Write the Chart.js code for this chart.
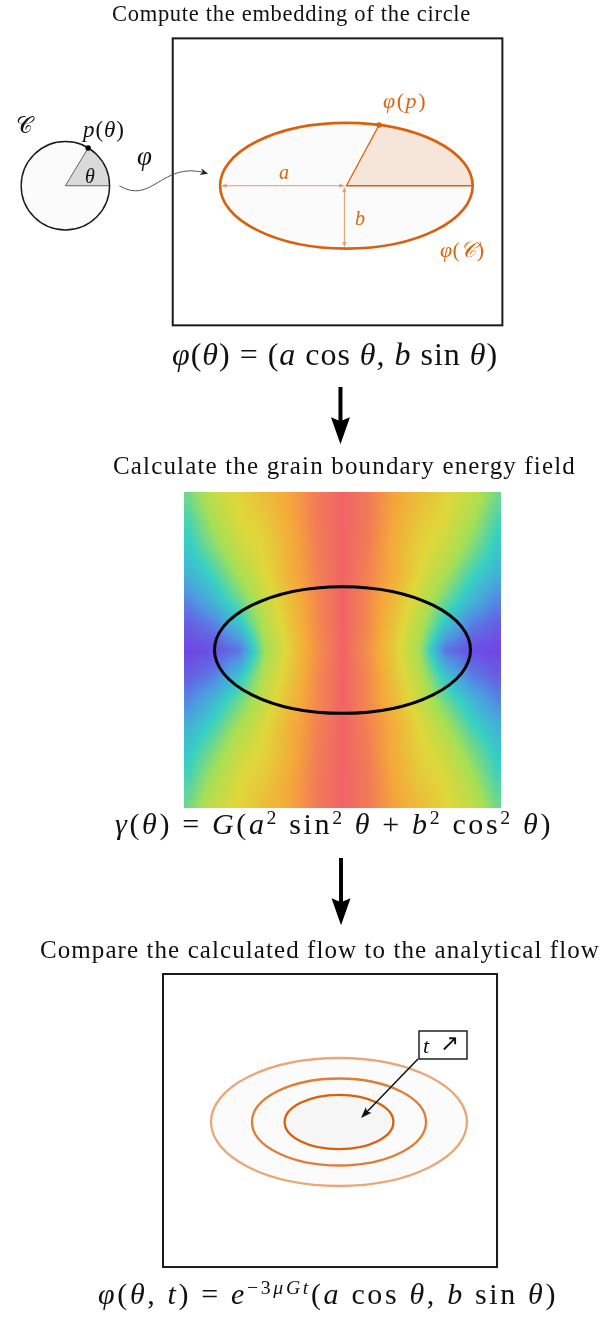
<!DOCTYPE html>
<html>
<head>
<meta charset="utf-8">
<script src="https://cdn.jsdelivr.net/npm/chart.js@4.4.1/dist/chart.umd.min.js"></script>
<style>
  body { margin: 0; background: #fff; }
  #page { position: relative; width: 603px; height: 1323px; overflow: hidden;
          font-family: "Liberation Serif", "DejaVu Serif", serif; color: #111; }
  canvas { position: absolute; left: 0; }
  .t { position: absolute; white-space: nowrap; line-height: 1; z-index: 2; }
  .or { color: #d9650f; }
  .sup { font-size: 0.66em; position: relative; top: -0.52em; }
</style>
</head>
<body>
<div id="page">
  <canvas id="embed" width="603" height="455" style="top:0"></canvas>
  <canvas id="field" width="603" height="480" style="top:455px"></canvas>
  <canvas id="flow" width="603" height="388" style="top:935px"></canvas>

  <div class="t fit" data-x="112" data-w="359" data-b="22" style="font-size:22.5px">Compute the embedding of the circle</div>
  <div class="t fit" data-x="172" data-w="326" data-b="365" style="font-size:32px"><i>φ</i>(<i>θ</i>) = (<i>a</i> cos <i>θ</i>, <i>b</i> sin <i>θ</i>)</div>
  <div class="t fit" data-x="113" data-w="463" data-b="474" style="font-size:25px">Calculate the grain boundary energy field</div>
  <div class="t fit" data-x="115" data-w="438" data-b="834" style="font-size:30px"><i>γ</i>(<i>θ</i>) = <i>G</i>(<i>a</i><span class="sup">2</span> sin<span class="sup">2</span> <i>θ</i> + <i>b</i><span class="sup">2</span> cos<span class="sup">2</span> <i>θ</i>)</div>
  <div class="t fit" data-x="40" data-w="560" data-b="958" style="font-size:25px">Compare the calculated flow to the analytical flow</div>
  <div class="t fit" data-x="98" data-w="460" data-b="1304" style="font-size:30px"><i>φ</i>(<i>θ</i>, <i>t</i>) = <i>e</i><span class="sup">−3<i>μGt</i></span>(<i>a</i> cos <i>θ</i>, <i>b</i> sin <i>θ</i>)</div>

  <div class="t" style="left:16px;top:114px;font-size:23px;font-family:'DejaVu Serif',serif">𝒞</div>
  <div class="t fit" data-x="83" data-w="42" data-b="137" style="font-size:23px"><i>p</i>(<i>θ</i>)</div>
  <div class="t" style="left:85px;top:166px;font-size:20px"><i>θ</i></div>
  <div class="t" style="left:137px;top:143px;font-size:27px"><i>φ</i></div>
  <div class="t or fit" data-x="383" data-w="44" data-b="108" style="font-size:22px"><i>φ</i>(<i>p</i>)</div>
  <div class="t or" style="left:279px;top:162px;font-size:20px"><i>a</i></div>
  <div class="t or" style="left:355px;top:208px;font-size:20px"><i>b</i></div>
  <div class="t or fit" data-x="440" data-w="45" data-b="257" style="font-size:22px"><i>φ</i>(<i>𝒞</i>)</div>
  <div class="t" style="left:423px;top:1035px;font-size:22px"><i>t</i></div>
  <div class="t" style="left:440px;top:1032px;font-size:23px;font-family:'DejaVu Sans',sans-serif">↗</div>
</div>

<script>
// values (in ellipse units: b = 1)
const embedAxes = [2.0, 1.0];            // a, b of φ(C)
const circleRadius = 0.70;               // radius of C
const thetaDeg = [59, 75];               // angle of p(θ) on C, of φ(p) on φ(C)
const fieldAxes = [2.0, 0.99];           // black ellipse over the energy field
const flowAxes = [2.0, 1.0];             // largest ellipse of the flow
const flowScale = [1.0, 0.68, 0.425];    // e^{-3μGt} for the three drawn times

// normalised grain boundary energy (0 = purple, 1 = red), read on a 13 x 13 grid
const fieldCols = [-2.4, -2.0, -1.6, -1.2, -0.8, -0.4, 0, 0.4, 0.8, 1.2, 1.6, 2.0, 2.4];
const fieldRows = [2.4, 2.0, 1.6, 1.2, 0.8, 0.4, 0, -0.4, -0.8, -1.2, -1.6, -2.0, -2.4];
const fieldGrid = [
  [0.42, 0.58, 0.67, 0.75, 0.83, 0.94, 1.0, 0.94, 0.83, 0.75, 0.67, 0.58, 0.42],
  [0.36, 0.52, 0.65, 0.71, 0.82, 0.94, 1.0, 0.94, 0.82, 0.71, 0.65, 0.52, 0.36],
  [0.31, 0.45, 0.60, 0.68, 0.80, 0.93, 1.0, 0.93, 0.80, 0.68, 0.60, 0.45, 0.31],
  [0.25, 0.36, 0.52, 0.66, 0.80, 0.92, 1.0, 0.92, 0.80, 0.66, 0.52, 0.36, 0.25],
  [0.14, 0.27, 0.42, 0.60, 0.76, 0.90, 1.0, 0.90, 0.76, 0.60, 0.42, 0.27, 0.14],
  [0.05, 0.12, 0.30, 0.55, 0.73, 0.90, 1.0, 0.90, 0.73, 0.55, 0.30, 0.12, 0.05],
  [0.00, 0.02, 0.10, 0.50, 0.70, 0.88, 1.0, 0.88, 0.70, 0.50, 0.10, 0.02, 0.00],
  [0.05, 0.12, 0.30, 0.55, 0.73, 0.90, 1.0, 0.90, 0.73, 0.55, 0.30, 0.12, 0.05],
  [0.14, 0.27, 0.42, 0.60, 0.76, 0.90, 1.0, 0.90, 0.76, 0.60, 0.42, 0.27, 0.14],
  [0.25, 0.36, 0.52, 0.66, 0.80, 0.92, 1.0, 0.92, 0.80, 0.66, 0.52, 0.36, 0.25],
  [0.31, 0.45, 0.60, 0.68, 0.80, 0.93, 1.0, 0.93, 0.80, 0.68, 0.60, 0.45, 0.31],
  [0.36, 0.52, 0.65, 0.71, 0.82, 0.94, 1.0, 0.94, 0.82, 0.71, 0.65, 0.52, 0.36],
  [0.42, 0.58, 0.67, 0.75, 0.83, 0.94, 1.0, 0.94, 0.83, 0.75, 0.67, 0.58, 0.42]
];

const ORANGE = '#d9600c';
const ORANGE_LIGHT = '#e79a66';
const U = 64; // px per unit

const cmapStops = [
  [0.00, [112, 70, 228]],
  [0.17, [78, 152, 226]],
  [0.33, [55, 208, 196]],
  [0.50, [165, 224, 86]],
  [0.66, [224, 215, 58]],
  [0.82, [245, 168, 58]],
  [1.00, [240, 100, 102]]
];

function cmap(v) {
  for (let i = 1; i < cmapStops.length; i++) {
    if (v <= cmapStops[i][0]) {
      const [v0, c0] = cmapStops[i - 1], [v1, c1] = cmapStops[i];
      const f = (v - v0) / (v1 - v0);
      return c0.map((c, k) => Math.round(c + (c1[k] - c) * f));
    }
  }
  return cmapStops[cmapStops.length - 1][1];
}

// stretch titles and formulas to the width they have in the figure
document.querySelectorAll('.fit').forEach(el => {
  const size = parseFloat(el.style.fontSize);
  el.style.letterSpacing = '0px';
  const w = el.getBoundingClientRect().width;
  const n = el.textContent.length;
  el.style.letterSpacing = ((+el.dataset.w - w) / n) + 'px';
  el.style.left = el.dataset.x + 'px';
  el.style.top = (+el.dataset.b - 0.84 * size) + 'px';
});

function ranges(w, h, ox, oy) {
  return { x: [-ox / U, (w - ox) / U], y: [-(h - oy) / U, oy / U] };
}

function tools(chart) {
  const X = v => chart.scales.x.getPixelForValue(v);
  const Y = v => chart.scales.y.getPixelForValue(v);
  return { ctx: chart.ctx, X, Y, ux: X(1) - X(0), uy: Y(0) - Y(1) };
}

function head(ctx, x0, y0, x1, y1, len, wid, color, notch) {
  const ang = Math.atan2(y1 - y0, x1 - x0);
  ctx.save();
  ctx.translate(x1, y1);
  ctx.rotate(ang);
  ctx.fillStyle = color;
  ctx.beginPath();
  ctx.moveTo(0, 0);
  ctx.lineTo(-len, -wid / 2);
  ctx.lineTo(-len * (1 - (notch || 0)), 0);
  ctx.lineTo(-len, wid / 2);
  ctx.closePath();
  ctx.fill();
  ctx.restore();
}

function bigArrow(t, x, yTop, yTip) {
  const { ctx, X, Y } = t;
  ctx.save();
  ctx.strokeStyle = '#000';
  ctx.lineWidth = 4;
  ctx.beginPath();
  ctx.moveTo(X(x), Y(yTop));
  ctx.lineTo(X(x), Y(yTip) - 20);
  ctx.stroke();
  head(ctx, X(x), Y(yTop), X(x), Y(yTip), 27, 19, '#000', 0.15);
  ctx.restore();
}

function baseOptions(r) {
  return {
    responsive: false, animation: false, events: [],
    layout: { padding: 0 },
    plugins: { legend: { display: false }, tooltip: { enabled: false } },
    scales: {
      x: { type: 'linear', display: false, min: r.x[0], max: r.x[1] },
      y: { type: 'linear', display: false, min: r.y[0], max: r.y[1] }
    }
  };
}

// ---------- panel 1: embedding ----------
const th = thetaDeg.map(d => d * Math.PI / 180);
const circleX = -4.45;
const pOnC = { x: circleX + circleRadius * Math.cos(th[0]), y: circleRadius * Math.sin(th[0]) };
const phiP = { x: embedAxes[0] * Math.cos(th[1]), y: embedAxes[1] * Math.sin(th[1]) };

new Chart(document.getElementById('embed'), {
  type: 'scatter',
  data: {
    datasets: [
      { type: 'line', data: [phiP, { x: 0, y: 0 }, { x: embedAxes[0], y: 0 }],
        borderColor: ORANGE, borderWidth: 1.3, pointRadius: 0, fill: false },
      { data: [phiP], pointRadius: 2.7, backgroundColor: ORANGE, borderWidth: 0 },
      { data: [pOnC], pointRadius: 2.7, backgroundColor: '#000', borderWidth: 0 }
    ]
  },
  options: baseOptions(ranges(603, 455, 347, 185)),
  plugins: [{
    id: 'embedDraw',
    beforeDatasetsDraw(chart) {
      const t = tools(chart), { ctx, X, Y, ux, uy } = t;
      const [a, b] = embedAxes;
      ctx.save();
      // frame
      ctx.strokeStyle = '#1a1a1a';
      ctx.lineWidth = 2;
      ctx.strokeRect(X(-2.75), Y(2.344), X(2.47) - X(-2.75), Y(-2.22) - Y(2.344));

      // circle C with the wedge up to p(θ)
      const cx = X(circleX), cy = Y(0), r = circleRadius * ux;
      ctx.fillStyle = '#fbfbfb';
      ctx.beginPath(); ctx.arc(cx, cy, r, 0, 2 * Math.PI); ctx.fill();
      ctx.fillStyle = '#dadada';
      ctx.beginPath(); ctx.moveTo(cx, cy); ctx.arc(cx, cy, r, -th[0], 0); ctx.closePath(); ctx.fill();
      ctx.strokeStyle = '#444'; ctx.lineWidth = 0.8;
      ctx.beginPath(); ctx.moveTo(X(pOnC.x), Y(pOnC.y)); ctx.lineTo(cx, cy); ctx.lineTo(cx + r, cy); ctx.stroke();
      ctx.strokeStyle = '#1a1a1a'; ctx.lineWidth = 1.4;
      ctx.beginPath(); ctx.arc(cx, cy, r, 0, 2 * Math.PI); ctx.stroke();

      // ellipse φ(C) with sector up to φ(p)
      const ex = X(0), ey = Y(0);
      ctx.fillStyle = '#fbfbfb';
      ctx.beginPath(); ctx.ellipse(ex, ey, a * ux, b * uy, 0, 0, 2 * Math.PI); ctx.fill();
      ctx.fillStyle = '#f6e6d9';
      ctx.beginPath(); ctx.moveTo(ex, ey); ctx.lineTo(X(phiP.x), Y(phiP.y));
      ctx.ellipse(ex, ey, a * ux, b * uy, 0, -th[1], 0); ctx.closePath(); ctx.fill();
      ctx.strokeStyle = ORANGE; ctx.lineWidth = 2.6;
      ctx.beginPath(); ctx.ellipse(ex, ey, a * ux, b * uy, 0, 0, 2 * Math.PI); ctx.stroke();

      // a and b dimension arrows
      ctx.strokeStyle = ORANGE_LIGHT; ctx.lineWidth = 1;
      ctx.beginPath();
      ctx.moveTo(X(-a) + 2, ey); ctx.lineTo(ex - 2, ey);
      ctx.moveTo(ex - 2, ey + 2); ctx.lineTo(ex - 2, Y(-b) - 2);
      ctx.stroke();
      head(ctx, ex, ey, X(-a) + 1.5, ey, 5, 4, ORANGE_LIGHT);
      head(ctx, X(-a), ey, ex - 2, ey, 5, 4, ORANGE_LIGHT);
      head(ctx, ex - 2, Y(-b), ex - 2, ey + 1.5, 5, 4, ORANGE_LIGHT);
      head(ctx, ex - 2, ey, ex - 2, Y(-b) - 1.5, 5, 4, ORANGE_LIGHT);

      // the map φ: wavy arrow from C to φ(C)
      const S = [-3.594, 0], C1 = [-3.078, -0.3125], C2 = [-2.922, 0.391], E = [-2.19, 0.19];
      ctx.strokeStyle = '#555'; ctx.lineWidth = 1;
      ctx.beginPath();
      ctx.moveTo(X(S[0]), Y(S[1]));
      ctx.bezierCurveTo(X(C1[0]), Y(C1[1]), X(C2[0]), Y(C2[1]), X(E[0]) - 3, Y(E[1]) - 1);
      ctx.stroke();
      head(ctx, X(C2[0]), Y(C2[1]), X(E[0]), Y(E[1]), 8, 7, '#222', 0.3);

      // arrow down to the next step
      bigArrow(t, -0.094, -3.2, -4.11);
      ctx.restore();
    }
  }]
});

// ---------- panel 2: energy field ----------
const fieldBox = [-2.477, 2.477, -2.47, 2.47];
const fieldImg = document.createElement('canvas');
fieldImg.width = Math.round((fieldBox[1] - fieldBox[0]) * U);
fieldImg.height = Math.round((fieldBox[3] - fieldBox[2]) * U);
(function () {
  // shade the box pixel by pixel from the grid read above
  const g = fieldImg.getContext('2d');
  const W = fieldImg.width, H = fieldImg.height;
  const img = g.createImageData(W, H);
  const step = fieldCols[1] - fieldCols[0];
  const nc = fieldCols.length, nr = fieldRows.length;
  for (let py = 0; py < H; py++) {
    const uy = fieldBox[3] - (py + 0.5) / U;
    let fj = (fieldRows[0] - uy) / step;
    fj = Math.max(0, Math.min(nr - 1.0001, fj));
    const j = Math.floor(fj), dj = fj - j;
    for (let px = 0; px < W; px++) {
      const ux = fieldBox[0] + (px + 0.5) / U;
      let fi = (ux - fieldCols[0]) / step;
      fi = Math.max(0, Math.min(nc - 1.0001, fi));
      const i = Math.floor(fi), di = fi - i;
      const v = (fieldGrid[j][i] * (1 - di) + fieldGrid[j][i + 1] * di) * (1 - dj) +
                (fieldGrid[j + 1][i] * (1 - di) + fieldGrid[j + 1][i + 1] * di) * dj;
      const c = cmap(v), k = 4 * (py * W + px);
      img.data[k] = c[0]; img.data[k + 1] = c[1]; img.data[k + 2] = c[2]; img.data[k + 3] = 255;
    }
  }
  g.putImageData(img, 0, 0);
})();

new Chart(document.getElementById('field'), {
  type: 'scatter',
  data: { datasets: [] },
  options: baseOptions(ranges(603, 480, 342.5, 195)),
  plugins: [{
    id: 'fieldDraw',
    beforeDatasetsDraw(chart) {
      const t = tools(chart), { ctx, X, Y, ux, uy } = t;
      ctx.save();
      ctx.drawImage(fieldImg, X(fieldBox[0]), Y(fieldBox[3]),
        X(fieldBox[1]) - X(fieldBox[0]), Y(fieldBox[2]) - Y(fieldBox[3]));
      ctx.strokeStyle = '#000'; ctx.lineWidth = 3;
      ctx.beginPath();
      ctx.ellipse(X(0), Y(0), fieldAxes[0] * ux, fieldAxes[1] * uy, 0, 0, 2 * Math.PI);
      ctx.stroke();
      bigArrow(t, -0.023, -3.25, -4.3);
      ctx.restore();
    }
  }]
});

// ---------- panel 3: flow ----------
const flowStroke = ['rgba(217,96,12,0.55)', 'rgba(217,96,12,0.82)', ORANGE];
const flowFill = ['#fbfbfb', '#fbfbfb', '#f6f6f6'];

new Chart(document.getElementById('flow'), {
  type: 'scatter',
  data: {
    datasets: [
      { type: 'line', data: [{ x: 1.234, y: 0.984 }, { x: 0.37, y: 0.09 }],
        borderColor: '#111', borderWidth: 1.5, pointRadius: 0, fill: false }
    ]
  },
  options: baseOptions(ranges(603, 388, 339, 187)),
  plugins: [{
    id: 'flowDraw',
    beforeDatasetsDraw(chart) {
      const { ctx, X, Y, ux, uy } = tools(chart);
      ctx.save();
      ctx.strokeStyle = '#1a1a1a'; ctx.lineWidth = 2;
      ctx.strokeRect(X(-2.75), Y(2.3125), X(2.469) - X(-2.75), Y(-2.266) - Y(2.3125));
      flowScale.forEach((s, i) => {
        ctx.beginPath();
        ctx.ellipse(X(0), Y(0), flowAxes[0] * s * ux, flowAxes[1] * s * uy, 0, 0, 2 * Math.PI);
        ctx.fillStyle = flowFill[i]; ctx.fill();
        ctx.strokeStyle = flowStroke[i]; ctx.lineWidth = 2.3; ctx.stroke();
      });
      ctx.restore();
    },
    afterDatasetsDraw(chart) {
      const { ctx, X, Y } = tools(chart);
      ctx.save();
      head(ctx, X(1.234), Y(0.984), X(0.344), Y(0.0625), 11, 8, '#111', 0.2);
      ctx.fillStyle = '#fff'; ctx.strokeStyle = '#222'; ctx.lineWidth = 1.5;
      ctx.beginPath();
      ctx.rect(X(1.25), Y(1.422), X(2.0) - X(1.25), Y(0.984) - Y(1.422));
      ctx.fill(); ctx.stroke();
      ctx.restore();
    }
  }]
});
</script>
</body>
</html>
